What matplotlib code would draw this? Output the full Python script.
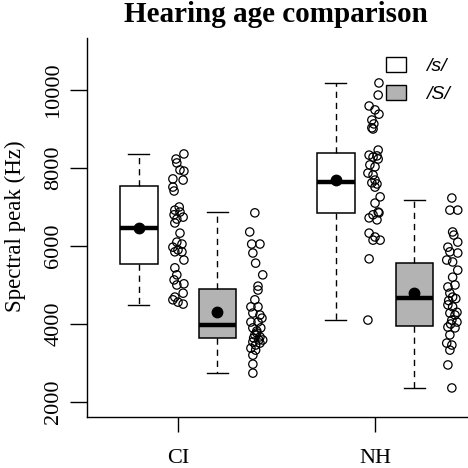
import numpy as np
import matplotlib
matplotlib.use('Agg')
import matplotlib.pyplot as plt
from matplotlib.patches import Patch

# groups: CI /s/, CI /S/, NH /s/, NH /S/
group_names = ['CI', 'NH']
sound_labels = ['/s/', '/S/']
box_fill = ['white', '#b3b3b3', 'white', '#b3b3b3']

# box statistics (Hz)
q1 = [5530, 3650, 6838, 3949]
med = [6453, 3974, 7633, 4658]
q3 = [7546, 4890, 8376, 5572]
whislo = [4495, 2744, 4103, 2367]
whishi = [8351, 6872, 10172, 7179]
means = [6460, 4300, 7690, 4786]

# individual points (Hz) and their horizontal jitter (x units)
ci_s = [8360, 8230, 8130, 7950, 7920, 7720, 7690, 7510, 7410, 7000, 6920, 6870,
        6800, 6740, 6690, 6590, 6330, 6100, 6050, 5970, 5900, 5850, 5850, 5640,
        5440, 5260, 5130, 5030, 5000, 4790, 4690, 4620, 4560, 4510]
ci_s_jit = [0.15, -0.05, -0.03, 0.05, 0.15, -0.13, 0.13, -0.13, -0.10, 0.03, -0.08, 0.05,
            -0.10, 0.13, -0.03, -0.08, 0.05, -0.03, 0.10, -0.13, 0.0, -0.08, 0.10, 0.15,
            -0.08, -0.03, -0.10, 0.15, -0.03, 0.13, -0.08, -0.13, 0.0, 0.13]

ci_sh = [6850, 6360, 6050, 6050, 5820, 5560, 5260, 4970, 4870, 4620, 4440, 4440,
         4280, 4230, 4150, 4050, 4050, 3900, 3900, 3820, 3770, 3720, 3670, 3640,
         3590, 3590, 3540, 3510, 3460, 3380, 3330, 3200, 2970, 2740]
ci_sh_jit = [-0.05, -0.18, -0.13, 0.08, -0.10, -0.03, 0.15, 0.03, 0.03, -0.05, -0.15, 0.03,
             -0.10, 0.08, 0.13, -0.15, 0.03, -0.10, 0.10, 0.0, 0.0, -0.05, 0.08, -0.08,
             0.15, 0.05, -0.10, 0.08, -0.03, -0.15, -0.03, -0.10, -0.10, -0.10]

nh_s = [10180, 9870, 9590, 9490, 9380, 9230, 9130, 9030, 9000, 8460, 8330, 8310,
        8280, 8230, 8080, 8030, 7870, 7820, 7690, 7620, 7590, 7510, 7260, 7100,
        6870, 6850, 6800, 6720, 6670, 6330, 6230, 6150, 6150, 5670, 4100]
nh_s_jit = [0.10, 0.08, -0.15, 0.0, 0.10, -0.08, -0.03, -0.08, -0.05, 0.08, -0.15, 0.05,
            -0.05, 0.08, -0.13, 0.0, -0.18, -0.05, 0.0, -0.08, 0.05, 0.0, 0.13, 0.0,
            0.08, 0.10, -0.05, -0.15, 0.05, -0.15, 0.0, 0.13, -0.05, -0.15, -0.18]

nh_sh = [7230, 6920, 6920, 6360, 6280, 6100, 5970, 5850, 5820, 5640, 5590, 5380,
         5200, 5000, 4950, 4790, 4690, 4650, 4600, 4490, 4440, 4300, 4280, 4230,
         4100, 4050, 4000, 3920, 3900, 3720, 3510, 3460, 3330, 2950, 2360]
nh_sh_jit = [-0.05, -0.10, 0.10, -0.03, 0.0, 0.10, -0.15, -0.10, 0.10, -0.18, -0.03, 0.10,
             -0.03, 0.03, -0.15, -0.10, -0.03, 0.05, -0.13, -0.15, -0.03, 0.08, -0.10, 0.03,
             -0.05, 0.08, -0.08, -0.15, 0.03, -0.10, -0.18, -0.05, -0.10, -0.15, -0.05]

points = [(ci_s, ci_s_jit), (ci_sh, ci_sh_jit), (nh_s, nh_s_jit), (nh_sh, nh_sh_jit)]
box_pos = [1, 3, 6, 8]
pts_pos = [2, 4, 7, 9]
tick_pos = [2, 7]

serif = 'Liberation Serif'

fig = plt.figure(figsize=(4.68, 4.68), dpi=100)
ax = fig.add_axes([87/468, 51/468, 381/468, 379/468])

stats = []
for i in range(4):
    stats.append(dict(med=med[i], q1=q1[i], q3=q3[i], whislo=whislo[i],
                      whishi=whishi[i], mean=means[i], fliers=[]))

bp = ax.bxp(stats, positions=box_pos, widths=0.96, capwidths=0.54,
            patch_artist=True, showmeans=True, showfliers=False,
            boxprops=dict(edgecolor='black', linewidth=1.1),
            medianprops=dict(color='black', linewidth=3.2, solid_capstyle='butt'),
            whiskerprops=dict(color='black', linewidth=1.0, linestyle=(0, (4.5, 3.5))),
            capprops=dict(color='black', linewidth=1.0),
            meanprops=dict(marker='o', markerfacecolor='black', markeredgecolor='black',
                           markersize=7.5))
for patch, c in zip(bp['boxes'], box_fill):
    patch.set_facecolor(c)

for (vals, jit), p in zip(points, pts_pos):
    ax.scatter(p + np.array(jit), vals, s=36, facecolors='none',
               edgecolors='black', linewidths=0.9, zorder=3)

ax.set_xlim(-0.31, 9.36)
ax.set_ylim(1615, 11333)
ax.spines['top'].set_visible(False)
ax.spines['right'].set_visible(False)
for s in ['left', 'bottom']:
    ax.spines[s].set_linewidth(1.0)

ax.set_xticks(tick_pos)
ax.set_xticklabels(group_names, fontfamily=serif, fontsize=16)
ax.set_yticks([2000, 4000, 6000, 8000, 10000])
ax.set_yticklabels(['2000', '4000', '6000', '8000', '10000'], fontfamily=serif,
                   fontsize=16, rotation=90, va='center')
ax.tick_params(axis='x', length=11, width=1.0, pad=12)
ax.tick_params(axis='y', length=12, width=1.0, pad=5)

fig.text(276/468, 1 - 22/468, 'Hearing age comparison', ha='center', va='baseline',
         fontfamily=serif, fontweight='bold', fontsize=21)
fig.text(15/468, 1 - 226/468, 'Spectral peak (Hz)', ha='center', va='center',
         rotation=90, fontfamily=serif, fontsize=16.5)

handles = [Patch(facecolor='white', edgecolor='black', linewidth=1.0),
           Patch(facecolor='#b3b3b3', edgecolor='black', linewidth=1.0)]
ax.legend(handles, sound_labels, loc='upper left',
          bbox_to_anchor=(386/468, 1 - 57/468), bbox_transform=fig.transFigure,
          frameon=False, borderpad=0, borderaxespad=0,
          handlelength=1.05, handleheight=0.8, handletextpad=1.0, labelspacing=0.5,
          prop=dict(family='Liberation Sans', style='italic', size=14))

fig.savefig('out.png', dpi=100)
